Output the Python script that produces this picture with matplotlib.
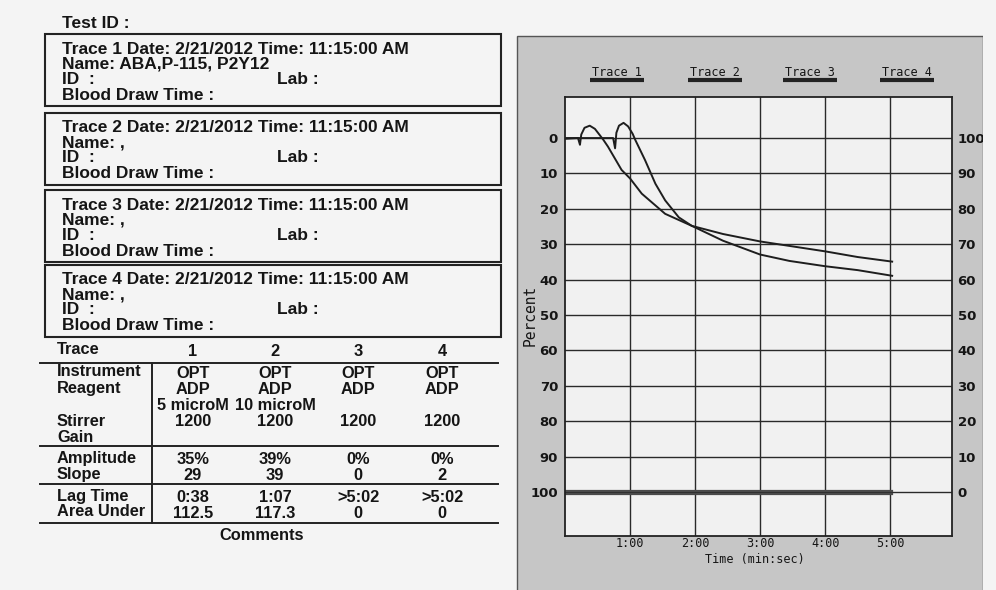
"""Platelet aggregation report (scanned sheet) recreated"""

import matplotlib
matplotlib.use('Agg')
import matplotlib.pyplot as plt
from matplotlib.patches import Rectangle

# report fields
trace_ids = ['1', '2', '3', '4']
trace_date = '2/21/2012'
trace_time = '11:15:00 AM'
trace_names = ['ABA,P-115, P2Y12', ',', ',', ',']
instrument = ['OPT', 'OPT', 'OPT', 'OPT']
reagent = ['ADP', 'ADP', 'ADP', 'ADP']
concentration = ['5 microM', '10 microM', '', '']
stirrer = ['1200', '1200', '1200', '1200']
amplitude = ['35%', '39%', '0%', '0%']
slope = ['29', '39', '0', '2']
lag_time = ['0:38', '1:07', '>5:02', '>5:02']
area_under = ['112.5', '117.3', '0', '0']

# traces: time in minutes, percent
t1 = [0.0, 0.20, 0.23, 0.25, 0.30, 0.38, 0.46, 0.54, 0.59, 0.66, 0.87, 1.0,
      1.18, 1.54, 1.95, 2.43, 3.0, 3.5, 4.0, 4.5, 5.03]
p1 = [0.2, 0.0, 1.9, -1.0, -2.9, -3.5, -2.6, -0.7, 0.5, 2.4, 9.0, 11.4,
      15.7, 21.4, 24.8, 27.1, 29.2, 30.6, 32.0, 33.6, 34.9]
t2 = [0.0, 0.74, 0.77, 0.79, 0.83, 0.90, 0.97, 1.04, 1.08, 1.23, 1.39, 1.54,
      1.75, 1.95, 2.43, 3.0, 3.45, 4.0, 4.5, 5.03]
p2 = [0.0, 0.0, 2.9, -1.5, -3.5, -4.3, -3.3, -1.2, 0.5, 6.2, 12.9, 17.6,
      22.4, 24.8, 29.0, 32.9, 34.7, 36.2, 37.3, 38.9]
t3 = [0.0, 5.03]
p3 = [99.6, 99.6]
t4 = [0.0, 5.03]
p4 = [100.4, 100.4]

pct_ticks = [0, 10, 20, 30, 40, 50, 60, 70, 80, 90, 100]
time_ticks = [1, 2, 3, 4, 5]
time_labels = ['1:00', '2:00', '3:00', '4:00', '5:00']

W, H = 996, 590
page_bg = '#f4f4f4'
ink = '#151515'
sans = dict(family='Liberation Sans', weight='bold', color=ink, fontsize=12.5)
tab = dict(sans, fontsize=11.8)
mono = dict(family='DejaVu Sans Mono', color=ink, fontsize=8.5)

fig = plt.figure(figsize=(W / 100, H / 100), dpi=100)
fig.patch.set_facecolor(page_bg)

# page axes in pixel coordinates
pg = fig.add_axes([0, 0, 1, 1])
pg.set_xlim(0, W)
pg.set_ylim(H, 0)
pg.axis('off')

pg.text(62, 23, 'Test ID :', va='center', **sans)

box_tops = [34, 113, 190, 265]
for i, top in enumerate(box_tops):
    pg.add_patch(Rectangle((45, top), 456, 72, fill=False, ec='#222', lw=1.5))
    pg.text(62, top + 15, 'Trace %s Date: %s Time: %s'
            % (trace_ids[i], trace_date, trace_time), va='center', **sans)
    pg.text(62, top + 30, 'Name: ' + trace_names[i], va='center', **sans)
    pg.text(62, top + 45, 'ID  :', va='center', **sans)
    pg.text(277, top + 45, 'Lab :', va='center', **sans)
    pg.text(62, top + 61, 'Blood Draw Time :', va='center', **sans)

# results table
col_x = [193, 275, 358, 442]
lab_x = 57
pg.text(lab_x, 350, 'Trace', va='center', **tab)
for x, tid in zip(col_x, trace_ids):
    pg.text(x, 352, tid, ha='center', va='center', **tab)

rows = [(372, 'Instrument', instrument, 374),
        (388, 'Reagent', reagent, 390),
        (None, '', concentration, 406),
        (421, 'Stirrer', stirrer, 421),
        (437, 'Gain', None, None),
        (458, 'Amplitude', amplitude, 459),
        (474, 'Slope', slope, 475),
        (496, 'Lag Time', lag_time, 497),
        (512, 'Area Under', area_under, 513)]
for ly, label, vals, vy in rows:
    if ly is not None:
        pg.text(lab_x, ly, label, va='center', **tab)
    if vals is not None:
        for x, v in zip(col_x, vals):
            pg.text(x, vy, v, ha='center', va='center', **tab)

for y in [363, 446, 484, 523]:
    pg.plot([40, 498], [y, y], color='#222', lw=1.4)
pg.plot([152, 152], [363, 523], color='#222', lw=1.4)
pg.text(262, 535, 'Comments', ha='center', va='center', **tab)

# chart panel
pg.add_patch(Rectangle((517, 36), 466, 560, fc='#c6c6c6', ec='#555', lw=1))
trace_lab_x = [617, 715, 810, 907]
for i, x in enumerate(trace_lab_x):
    pg.text(x, 72, 'Trace ' + trace_ids[i], ha='center', va='center', **mono)
    pg.plot([x - 27, x + 27], [80, 80], color='#222', lw=3,
            solid_capstyle='butt')
pg.text(530, 315, 'Percent', rotation=90, ha='center', va='center',
        family='DejaVu Sans Mono', color=ink, fontsize=10.5)
pg.text(755, 560, 'Time (min:sec)', ha='center', va='center', **mono)

ax = fig.add_axes([565 / W, 1 - 536 / H, 387 / W, 439 / H])
ax.set_facecolor('#f1f1f1')
ax.set_xlim(0, 5.95)
ax.set_ylim(112.4, -11.6)

for t, p in [(t3, p3), (t4, p4)]:
    ax.plot(t, p, color='#4a4a4a', lw=1.6)
for t, p in [(t1, p1), (t2, p2)]:
    ax.plot(t, p, color='#1e1e1e', lw=1.4)

ax.set_xticks(time_ticks)
ax.set_xticklabels(time_labels, **mono)
ax.set_yticks(pct_ticks)
ax.set_yticklabels([str(v) for v in pct_ticks], family='DejaVu Sans',
                   weight='bold', fontsize=9.5, color=ink)
ax.grid(True, color='#2a2a2a', lw=1.0)
ax.tick_params(axis='x', length=0, pad=1)
ax.tick_params(axis='y', length=0, pad=5)
for s in ax.spines.values():
    s.set_color('#222')
    s.set_linewidth(1.3)

ax2 = ax.twinx()
ax2.set_ylim(ax.get_ylim())
ax2.set_yticks(pct_ticks)
ax2.set_yticklabels([str(100 - v) for v in pct_ticks], family='DejaVu Sans',
                    weight='bold', fontsize=9.5, color=ink)
ax2.tick_params(length=0, pad=4)
for s in ax2.spines.values():
    s.set_visible(False)

# page edge clips the right labels like the scan does
fig.add_artist(Rectangle((983 / W, 0), 13 / W, 1, transform=fig.transFigure,
                         fc=page_bg, ec='none', zorder=10))

fig.savefig('out.png', dpi=100, facecolor=fig.get_facecolor())
